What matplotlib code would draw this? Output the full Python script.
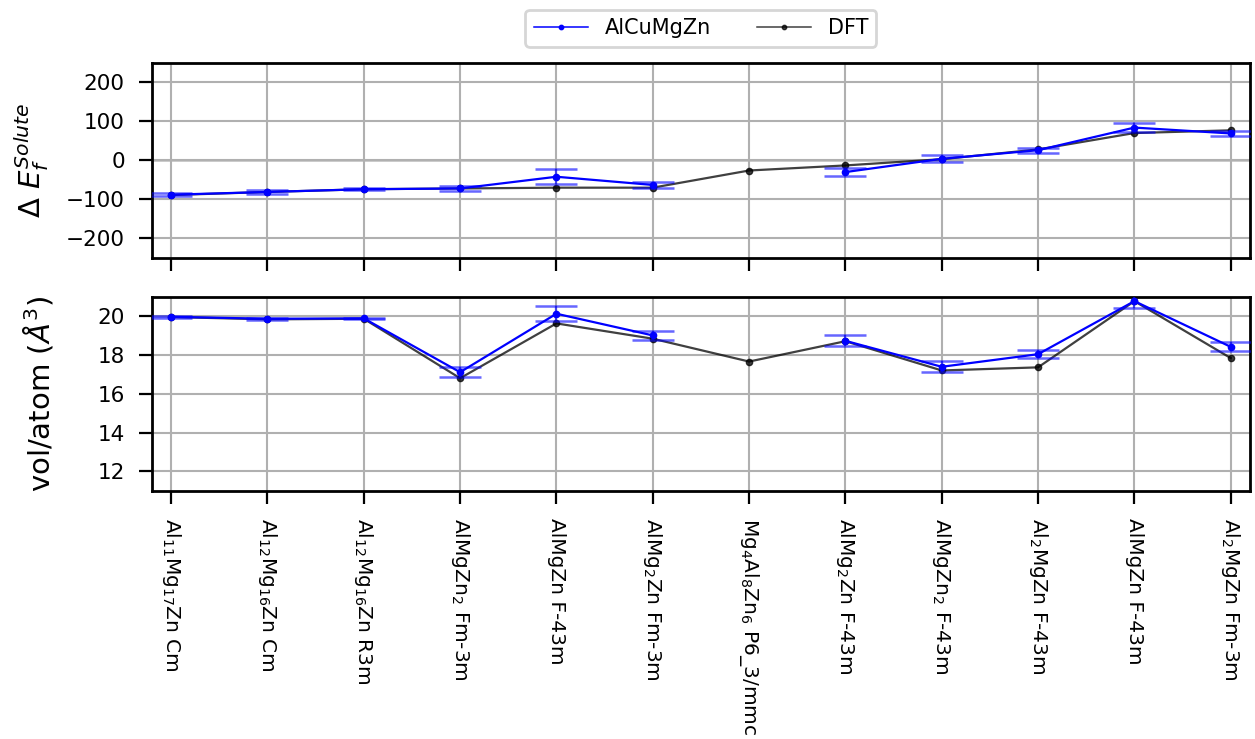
import numpy as np
import matplotlib.pyplot as plt

structures = [r'Al$_{11}$Mg$_{17}$Zn Cm', r'Al$_{12}$Mg$_{16}$Zn Cm', r'Al$_{12}$Mg$_{16}$Zn R3m',
              r'AlMgZn$_2$ Fm-3m', r'AlMgZn F-43m', r'AlMg$_2$Zn Fm-3m',
              r'Mg$_4$Al$_8$Zn$_6$ P6_3/mmc', r'AlMg$_2$Zn F-43m', r'AlMgZn$_2$ F-43m',
              r'Al$_2$MgZn F-43m', r'AlMgZn F-43m', r'Al$_2$MgZn Fm-3m']

# formation energy of solute structures (meV/atom)
ef_pot = [-88, -81, -74, -72, -42, -63, np.nan, -30, 4, 26, 84, 69]
ef_pot_err = [3.5, 4, 3, 7.5, 19, 7, np.nan, 10.5, 9, 6, 11, 7]
ef_dft = [-89, -81, -74, -72, -70, -70, -26, -13, 3, 28, 70, 77]

# volume per atom
vol_pot = [19.98, 19.88, 19.90, 17.12, 20.14, 19.02, np.nan, 18.74, 17.40, 18.05, 20.79, 18.43]
vol_pot_err = [0.05, 0.05, 0.04, 0.27, 0.39, 0.22, np.nan, 0.28, 0.28, 0.20, 0.33, 0.23]
vol_dft = [19.97, 19.85, 19.88, 16.81, 19.64, 18.85, 17.67, 18.72, 17.21, 17.37, 20.79, 17.85]

x = np.arange(len(structures))

fig = plt.figure(figsize=(12.55, 7.39), dpi=100)
ax1 = fig.add_axes([0.121, 0.651, 0.875, 0.264])
ax2 = fig.add_axes([0.121, 0.336, 0.875, 0.262], sharex=ax1)

def draw(ax, pot, err, dft):
    ax.plot(x, pot, '.-', color='blue', lw=1.6, ms=9, label='AlCuMgZn', zorder=3)
    ax.errorbar(x, pot, yerr=err, fmt='none', ecolor='blue', alpha=0.6,
                elinewidth=1.6, capsize=15, capthick=1.8, zorder=3)
    ax.plot(x, dft, '.-', color='black', alpha=0.75, lw=1.6, ms=9, label='DFT', zorder=2)
    ax.grid(True, color='#b0b0b0', lw=1.5)
    for s in ax.spines.values():
        s.set_linewidth(2)
    ax.tick_params(axis='both', labelsize=15.5, length=9.5, width=1.6, pad=10)

draw(ax1, ef_pot, ef_pot_err, ef_dft)
ax1.axhline(0, color='black', lw=1, zorder=1)
ax1.set_ylim(-250, 250)
ax1.set_yticks([-200, -100, 0, 100, 200])
ax1.set_ylabel(r'$\Delta\ E_f^{Solute}$', fontsize=21)
ax1.yaxis.set_label_coords(-0.092, 0.5)
ax1.tick_params(axis='x', labelbottom=False)
leg = ax1.legend(loc='lower center', bbox_to_anchor=(0.5, 1.03), ncol=2, fontsize=15,
                 handlelength=2.6, columnspacing=2.2, markerscale=0.7)
leg.get_frame().set_linewidth(2)
for h in leg.get_lines():
    h.set_linewidth(1.1)

draw(ax2, vol_pot, vol_pot_err, vol_dft)
ax2.set_ylim(11, 21)
ax2.set_yticks([12, 14, 16, 18, 20])
ax2.set_ylabel(r'vol/atom ($\AA^3$)', fontsize=21)
ax2.yaxis.set_label_coords(-0.088, 0.5)
ax2.set_xlim(-0.2, 11.2)
ax2.set_xticks(x)
ax2.set_xticklabels(structures, rotation=270, fontsize=14.5, va='top', ha='center')

fig.savefig('out.png', dpi=100)
